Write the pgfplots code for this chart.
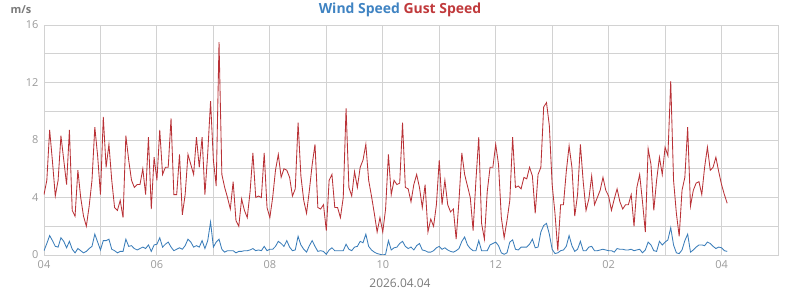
\documentclass[border=0pt]{standalone}
\usepackage{pgfplots}
\usepackage{pgfplotstable}
\pgfplotsset{compat=1.18}
\usepackage{fontspec}
\setmainfont{Open Sans}
\definecolor{windc}{HTML}{3A7DB9}
\definecolor{gustc}{HTML}{B93237}
\definecolor{windt}{HTML}{3F83C2}
\definecolor{gustt}{HTML}{C0393B}
\definecolor{gridc}{HTML}{D2D2D2}
\definecolor{tickc}{HTML}{9A9A9A}
\definecolor{labc}{HTML}{7A7A7A}
\pgfplotstableread{
w g
0.3 4.2
0.8 5.2
1.35 8.7
1.0 6.5
0.6 4.1
0.55 5.2
1.2 8.3
0.95 6.6
0.5 4.9
0.95 8.7
0.4 3.1
0.15 2.7
0.45 5.9
0.3 4.0
0.15 2.7
0.25 2.0
0.45 3.4
0.6 5.2
1.45 8.9
0.9 6.9
0.35 4.2
1.0 9.6
1.0 6.1
1.1 7.7
0.4 5.2
0.3 3.3
0.15 3.1
0.25 3.8
0.25 2.6
1.1 8.3
0.6 6.6
0.65 5.2
0.45 4.7
0.35 4.9
0.45 4.9
0.55 6.0
0.45 4.2
0.7 8.2
0.25 3.2
0.7 6.8
0.75 5.2
1.2 8.7
0.55 5.6
0.75 6.1
0.9 6.1
0.55 9.5
0.3 4.2
0.4 4.2
0.5 7.0
0.4 2.8
0.65 4.2
1.1 7.0
0.9 6.3
0.55 5.6
0.65 8.2
0.55 6.1
1.0 8.2
0.45 4.2
1.0 7.1
2.3 10.7
0.55 6.6
0.9 4.8
1.1 14.8
0.4 5.6
0.2 4.7
0.3 4.0
0.3 3.2
0.3 5.1
0.15 2.4
0.25 2.0
0.25 3.9
0.3 3.1
0.3 2.6
0.35 4.4
0.45 7.1
0.3 4.0
0.35 4.1
0.3 4.0
0.6 7.1
0.3 3.3
0.4 2.6
0.4 4.0
0.6 5.9
0.95 7.0
0.8 5.4
0.6 6.0
1.0 5.9
0.55 5.4
0.3 4.1
0.35 4.6
1.3 9.2
0.7 5.5
0.4 3.8
0.2 2.9
0.65 4.5
1.0 6.3
0.6 7.7
0.25 3.3
0.3 3.2
0.25 3.5
0.05 1.7
0.35 5.2
0.5 5.6
0.3 3.3
0.3 3.3
0.3 2.6
0.3 4.0
0.75 10.2
0.4 4.7
0.3 4.1
0.55 5.8
0.6 4.7
0.95 6.1
0.85 6.6
1.45 7.7
0.6 5.2
0.35 4.1
0.2 2.9
0.1 1.6
0.05 2.6
0.0 1.6
0.05 3.2
1.0 7.0
0.35 4.2
0.5 5.2
0.55 4.9
0.8 5.0
0.95 9.2
0.6 4.7
0.45 4.6
0.55 3.7
0.35 4.9
0.65 5.6
0.8 4.7
0.35 3.3
0.3 4.9
0.2 1.6
0.2 2.5
0.3 2.0
0.5 3.5
0.6 6.6
0.4 3.5
0.5 5.2
0.35 3.5
0.25 3.0
0.2 3.2
0.3 1.1
0.45 3.8
0.95 7.1
1.25 5.6
0.7 4.8
0.45 4.0
0.3 1.7
0.3 5.2
1.0 8.2
0.3 2.2
0.3 1.1
0.3 4.4
0.7 6.1
0.8 6.1
0.9 7.7
0.65 6.3
0.15 2.6
0.05 1.2
0.15 2.4
0.9 3.8
1.05 8.2
0.4 4.7
0.35 4.8
0.55 4.6
0.55 5.4
0.55 5.3
0.75 6.1
1.1 5.5
0.5 2.9
0.55 5.6
1.6 6.1
2.05 10.3
2.2 10.6
1.45 9.0
0.4 4.9
0.1 2.9
0.15 0.3
0.3 3.5
0.35 3.5
0.6 5.8
1.35 7.6
0.65 6.1
0.25 2.7
0.4 4.2
0.95 7.7
0.3 5.1
0.3 3.1
0.55 3.9
0.6 5.5
0.3 3.5
0.3 4.0
0.35 4.5
0.4 5.4
0.35 4.5
0.3 4.1
0.3 3.1
0.2 3.9
0.45 4.6
0.4 3.7
0.4 3.2
0.35 3.5
0.35 3.5
0.4 4.2
0.3 2.0
0.35 4.7
0.4 5.6
0.15 3.7
0.35 1.6
0.9 7.4
0.7 6.3
0.3 3.1
0.25 5.2
0.95 6.8
0.7 5.6
0.9 7.5
1.05 6.9
1.9 12.1
0.7 5.2
0.15 2.9
0.1 1.3
0.35 4.5
1.0 5.4
1.45 8.9
0.2 3.4
0.35 4.5
0.55 5.0
0.7 5.1
0.7 4.2
0.65 6.1
0.9 7.5
0.8 5.9
0.6 6.1
0.45 6.8
0.55 5.8
0.5 4.9
0.3 4.2
0.25 3.6
}\datatable
\begin{document}
\begin{tikzpicture}
\path[use as bounding box] (0bp,0bp) rectangle (800bp,290bp);
\begin{axis}[
  at={(44bp,35bp)}, anchor=south west,
  scale only axis, width=734bp, height=230bp,
  xmin=4, xmax=17, ymin=0, ymax=16,
  xtick={4,6,8,10,12,14,16},
  xticklabels={04,06,08,10,12,02,04},
  minor x tick num=1,
  ytick={0,4,8,12,16},
  minor y tick num=1,
  grid=both,
  major grid style={draw=gridc, line width=0.9bp},
  minor grid style={draw=gridc, line width=0.9bp},
  axis line style={draw=gridc, line width=0.9bp},
  major tick length=0pt, minor tick length=0pt,
  tick style={draw=none},
  ticklabel style={font=\fontsize{11}{12}\selectfont, text=tickc},
  /pgf/number format/assume math mode=true,
  xticklabel style={yshift=-2bp},
  yticklabel style={xshift=-2bp},
]
\addplot[draw=gustc, line width=0.85bp, mark=none] table[x expr=4+0.05*\coordindex, y=g] {\datatable};
\addplot[draw=windc, line width=0.85bp, mark=none] table[x expr=4+0.05*\coordindex, y=w] {\datatable};
\end{axis}
\node[font=\bfseries\fontsize{14}{14}\selectfont] at (400bp,280bp) {\textcolor{windt}{Wind Speed} \textcolor{gustt}{Gust Speed}};
\node[font=\bfseries\fontsize{11}{11}\selectfont, text=labc] at (21bp,280bp) {m/s};
\node[font=\fontsize{12}{12}\selectfont, text=labc] at (400bp,7bp) {2026.04.04};
\end{tikzpicture}
\end{document}
